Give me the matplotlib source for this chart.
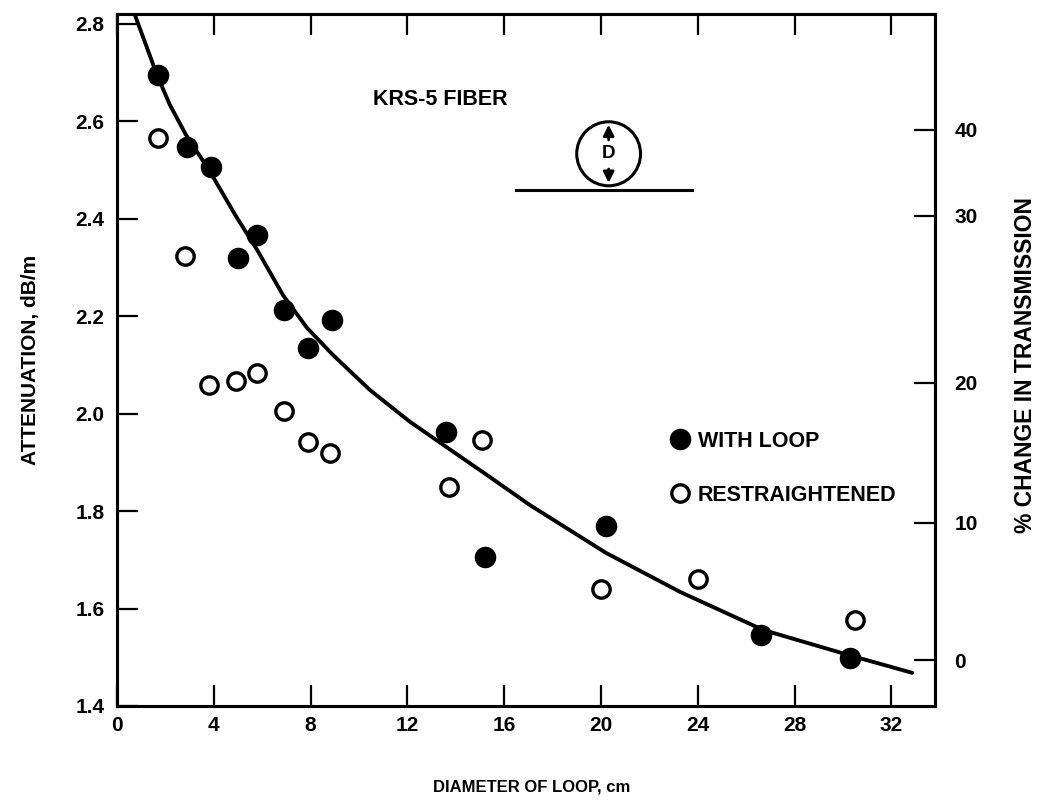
import matplotlib
matplotlib.use("Agg")
from matplotlib import pyplot as plt
from matplotlib.patches import Ellipse

plt.rcParams['font.family'] = ['Liberation Sans', 'DejaVu Sans']
plt.rcParams['font.weight'] = 'bold'

# data
loop_x = [1.7, 2.9, 3.9, 5.0, 5.8, 6.9, 7.9, 8.9, 13.6, 15.2, 20.2, 26.6, 30.3]
loop_y = [2.695, 2.547, 2.506, 2.319, 2.367, 2.213, 2.135, 2.192, 1.962, 1.706, 1.769, 1.546, 1.499]

restr_x = [1.7, 2.8, 3.8, 4.9, 5.8, 6.9, 7.9, 8.8, 13.7, 15.1, 20.0, 24.0, 30.5]
restr_y = [2.566, 2.323, 2.059, 2.067, 2.083, 2.005, 1.942, 1.919, 1.849, 1.946, 1.640, 1.661, 1.576]

# hand drawn trend line
curve_x = [0.74, 1.2, 1.65, 2.19, 2.85, 3.8, 4.88, 5.79, 6.86, 7.85, 8.93, 10.46, 12.11,
           13.68, 15.17, 17.07, 20.21, 23.27, 26.7, 30.34, 32.86]
curve_y = [2.818, 2.756, 2.695, 2.633, 2.572, 2.50, 2.408, 2.336, 2.243, 2.176, 2.12, 2.048,
           1.983, 1.929, 1.878, 1.812, 1.714, 1.634, 1.556, 1.503, 1.468]

x_ticks = [0, 4, 8, 12, 16, 20, 24, 28, 32]
y_ticks = [1.4, 1.6, 1.8, 2.0, 2.2, 2.4, 2.6, 2.8]
# right axis (% change in transmission) tick positions in dB/m
pct_labels = ['0', '10', '20', '30', '40']
pct_pos = [1.494, 1.776, 2.063, 2.406, 2.582]

fig = plt.figure(figsize=(10.41, 8.05), dpi=100)
ax = fig.add_axes([0.1124, 0.123, 0.7858, 0.8596])

ax.plot(curve_x, curve_y, color='black', lw=2.8, solid_capstyle='round')
ax.plot(loop_x, loop_y, 'o', color='black', ms=14.5, label='WITH LOOP')
ax.plot(restr_x, restr_y, 'o', mfc='white', mec='black', mew=2.4, ms=12.5,
        label='RESTRAIGHTENED')

ax.set_xlim(0, 33.8)
ax.set_ylim(1.4, 2.82)
ax.set_xticks(x_ticks)
ax.set_yticks(y_ticks)
ax.set_yticklabels(['{:.1f}'.format(v) for v in y_ticks])
ax.tick_params(direction='in', length=15, width=1.6, labelsize=15, pad=7,
               top=True)
ax.tick_params(axis='y', pad=9)
for s in ax.spines.values():
    s.set_linewidth(2.2)

ax2 = ax.twinx()
ax2.set_ylim(1.4, 2.82)
ax2.set_yticks(pct_pos)
ax2.set_yticklabels(pct_labels)
ax2.tick_params(direction='in', length=15, width=1.6, labelsize=15, pad=14)
for s in ax2.spines.values():
    s.set_linewidth(2.2)

# legend
leg = ax.legend(loc=(0.682, 0.289), frameon=False, fontsize=15.5, handlelength=0.5,
                handletextpad=0.55, labelspacing=1.55, borderpad=0)

# text and loop sketch
ax.text(0.395, 0.876, 'KRS-5 FIBER', transform=ax.transAxes, fontsize=15.5,
        ha='center', va='center')
cx, cy = 0.601, 0.798
ax.add_patch(Ellipse((cx, cy), 0.078, 0.0925, transform=ax.transAxes,
                     fill=False, lw=2.2, color='black'))
ax.plot([0.488, 0.7035], [0.7455, 0.7455], transform=ax.transAxes, color='black', lw=2.2)
ax.annotate('', xy=(cx, cy + 0.046), xytext=(cx, cy + 0.016), xycoords='axes fraction',
            arrowprops=dict(arrowstyle='-|>', color='black', lw=2, mutation_scale=16))
ax.annotate('', xy=(cx, cy - 0.046), xytext=(cx, cy - 0.018), xycoords='axes fraction',
            arrowprops=dict(arrowstyle='-|>', color='black', lw=2, mutation_scale=16))
ax.text(cx, cy, 'D', transform=ax.transAxes, fontsize=13.5, ha='center', va='center')

fig.text(0.029, 0.553, 'ATTENUATION, dB/m', rotation=90, ha='center', va='center',
         fontsize=15)
fig.text(0.511, 0.022, 'DIAMETER OF LOOP, cm', ha='center', va='center', fontsize=12)
fig.text(0.985, 0.547, '% CHANGE IN TRANSMISSION', rotation=90, ha='center',
         va='center', fontsize=16.5)

fig.savefig('out.png', dpi=100)
